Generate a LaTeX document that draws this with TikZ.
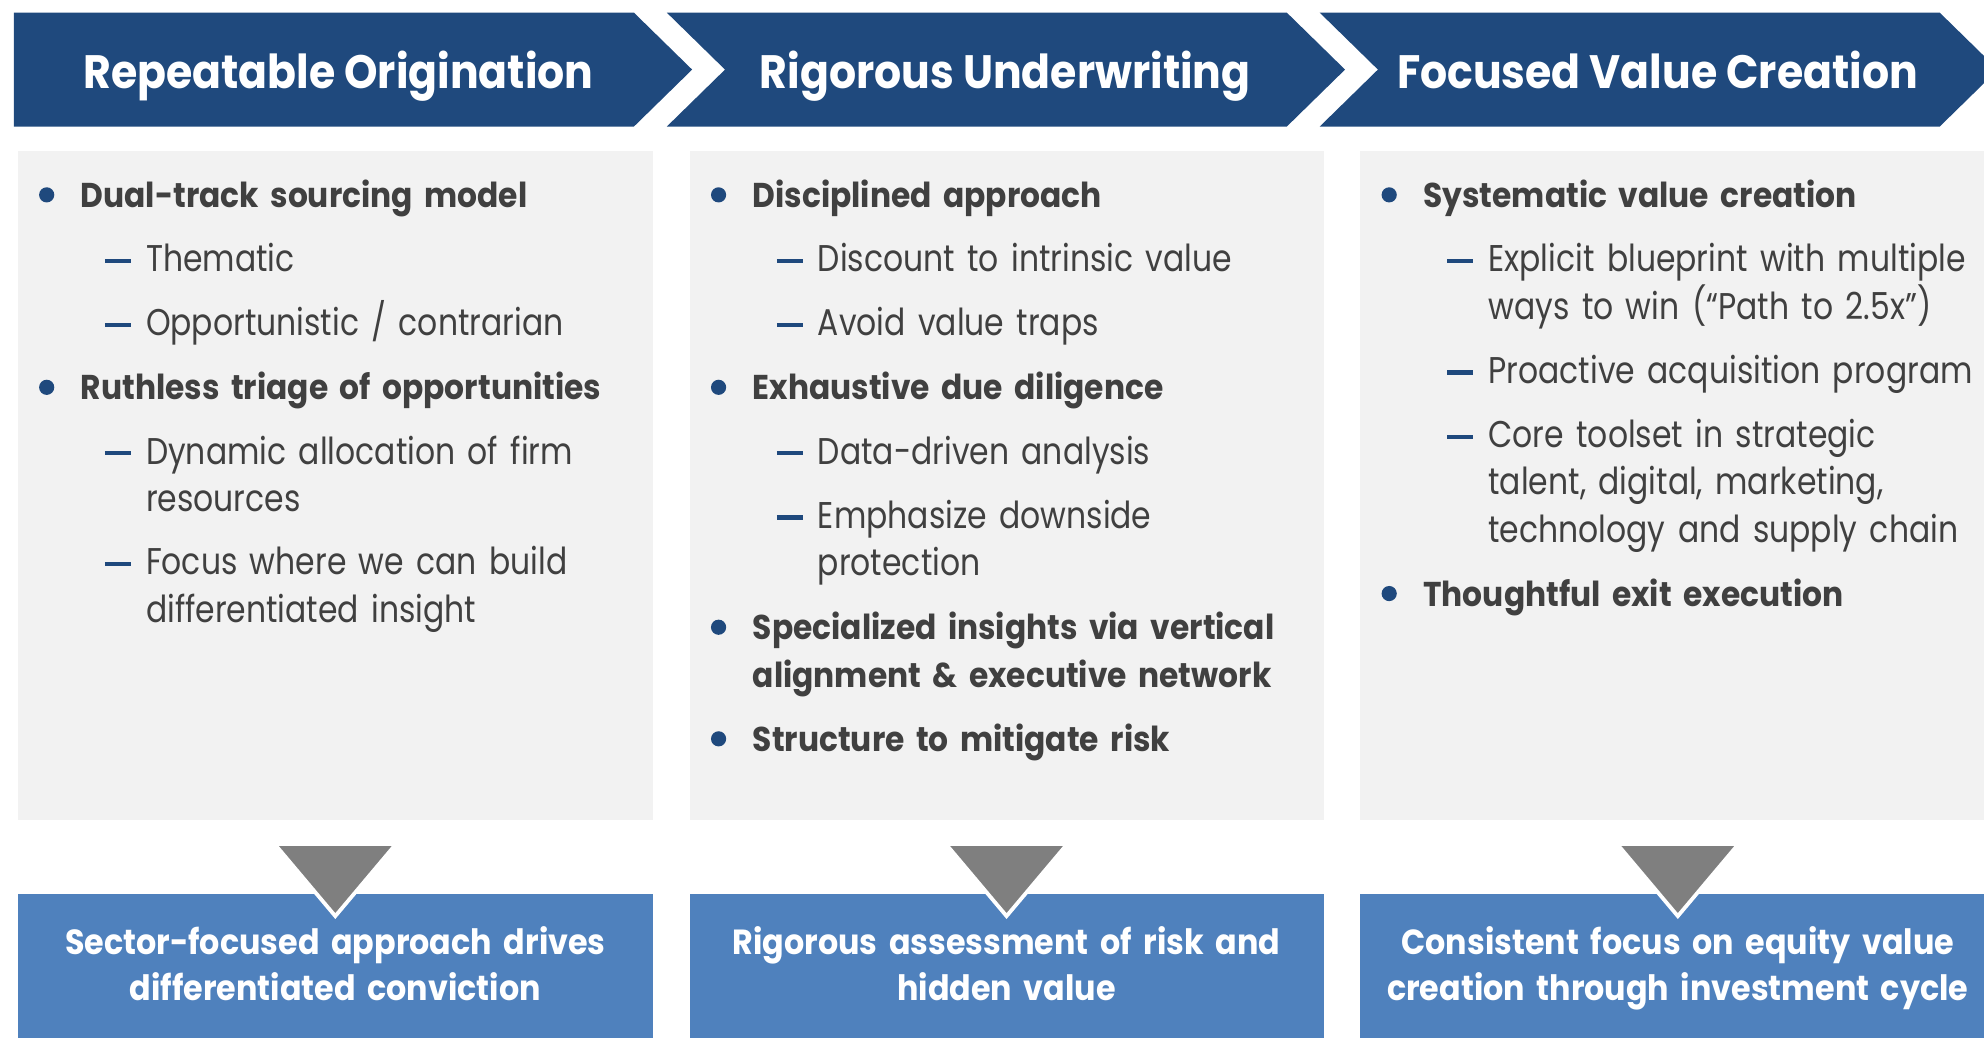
\documentclass[tikz,border=0pt]{standalone}
\usepackage{fontspec}
\setmainfont{Poppins}[UprightFeatures={FakeStretch=0.845},BoldFeatures={FakeStretch=0.91}]
\usepackage{xcolor}
\usepackage{tikz}
\usetikzlibrary{positioning}

\definecolor{hdrblue}{RGB}{31,73,125}
\definecolor{botblue}{RGB}{79,129,189}
\definecolor{panelgray}{RGB}{242,242,242}
\definecolor{tipgray}{RGB}{127,127,127}
\definecolor{txtgray}{RGB}{64,64,64}

% bullet and dash markers
\newcommand{\bul}{\llap{\tikz[baseline=0pt]\fill[hdrblue] (0,5pt) circle (3pt);\hspace{10.5pt}}}
\newcommand{\dsh}{\llap{\textcolor{hdrblue}{\rule[3.45pt]{10.25pt}{1.6pt}}\hspace{6pt}}}

\begin{document}
\begin{tikzpicture}[x=0.5pt, y=-0.5pt]
	
	% Styles
	\tikzset{
		chevron/.style={fill=hdrblue},
		panel/.style={fill=panelgray},
		result/.style={fill=botblue},
		downtip/.style={fill=tipgray, draw=white, line width=1.5pt},
		title/.style={
			anchor=base, inner sep=0pt, text=white,
			font=\fontsize{18.5}{22}\selectfont\bfseries
		},
		point/.style={
			anchor=base west, inner sep=0pt, text width=250pt, align=left,
			text=txtgray, font=\fontsize{13.6}{18.75}\selectfont\bfseries
		},
		subpoint/.style={
			anchor=base west, inner sep=0pt, text width=250pt, align=left,
			text=txtgray, font=\fontsize{14.7}{18.75}\selectfont
		},
		outcome/.style={
			anchor=base, inner sep=0pt, text width=250pt, align=center,
			text=white, font=\fontsize{13.8}{18.5}\selectfont\bfseries
		}
	}
	\useasboundingbox (0,0) rectangle (1568,820);
	
	% Header chevrons
	\fill[chevron] (11,10) -- (501,10) -- (547,55) -- (501,100) -- (11,100) -- cycle;
	\fill[chevron] (527,10) -- (1017,10) -- (1063,55) -- (1017,100) -- (527,100) -- (573,55) -- cycle;
	\fill[chevron] (1043,10) -- (1533,10) -- (1579,55) -- (1533,100) -- (1043,100) -- (1089,55) -- cycle;
	\node (origination) [title] at (267.5,69.8) {Repeatable Origination};
	\node (underwriting) [title] at (794.5,69.8) {Rigorous Underwriting};
	\node (valuecreation) [title] at (1310,69.8) {Focused Value Creation};
	
	% Panels and result boxes
	\fill[panel] (14,119) rectangle (516,648);
	\fill[panel] (545,119) rectangle (1046,648);
	\fill[panel] (1075,119) rectangle (1577,648);
	\fill[result] (14,706.6) rectangle (516,830);
	\fill[result] (545,706.6) rectangle (1046,830);
	\fill[result] (1075,706.6) rectangle (1577,830);
	
	% Down tips
	\filldraw[downtip] (217,667) -- (313,667) -- (265,724) -- cycle;
	\filldraw[downtip] (747.5,667) -- (843.5,667) -- (795.5,724) -- cycle;
	\filldraw[downtip] (1278,667) -- (1374,667) -- (1326,724) -- cycle;
	
	% Origination points
	\node (dualtrack) [point] at (63.5,164) {\bul Dual-track sourcing model};
	\node (thematic) [subpoint] at (115,214.7) {\dsh Thematic};
	\node (opportunistic) [subpoint] at (115,265.4) {\dsh Opportunistic / contrarian};
	\node (triage) [point] at (63.5,316.1) {\bul Ruthless triage of opportunities};
	\node (allocation) [subpoint] at (115,366.8) {\dsh Dynamic allocation of firm\\resources};
	\node (focus) [subpoint] at (115,454.4) {\dsh Focus where we can build\\differentiated insight};
	
	% Underwriting points
	\node (disciplined) [point] at (594.5,164) {\bul Disciplined approach};
	\node (discount) [subpoint] at (646,214.7) {\dsh Discount to intrinsic value};
	\node (traps) [subpoint] at (646,265.4) {\dsh Avoid value traps};
	\node (diligence) [point] at (594.5,316.1) {\bul Exhaustive due diligence};
	\node (datadriven) [subpoint] at (646,366.8) {\dsh Data-driven analysis};
	\node (downside) [subpoint] at (646,417.5) {\dsh Emphasize downside\\protection};
	\node (insights) [point] at (594.5,505.7) {\bul Specialized insights via vertical\\alignment \& executive network};
	\node (structure) [point] at (594.5,593.9) {\bul Structure to mitigate risk};
	
	% Value creation points
	\node (systematic) [point] at (1124.5,164) {\bul Systematic value creation};
	\node (blueprint) [subpoint] at (1176,214.7) {\dsh Explicit blueprint with multiple\\ways to win (``Path to 2.5x'')};
	\node (acquisition) [subpoint] at (1176,302.9) {\dsh Proactive acquisition program};
	\node (toolset) [subpoint] at (1176,353.6) {\dsh Core toolset in strategic\\talent, digital, marketing,\\technology and supply chain};
	\node (exit) [point] at (1124.5,479.1) {\bul Thoughtful exit execution};
	
	% Outcomes
	\node (conviction) [outcome] at (265,754) {Sector-focused approach drives\\differentiated conviction};
	\node (assessment) [outcome] at (795.5,754) {Rigorous assessment of risk and\\hidden value};
	\node (equity) [outcome] at (1326,754) {Consistent focus on equity value\\creation through investment cycle};
	
\end{tikzpicture}
\end{document}
